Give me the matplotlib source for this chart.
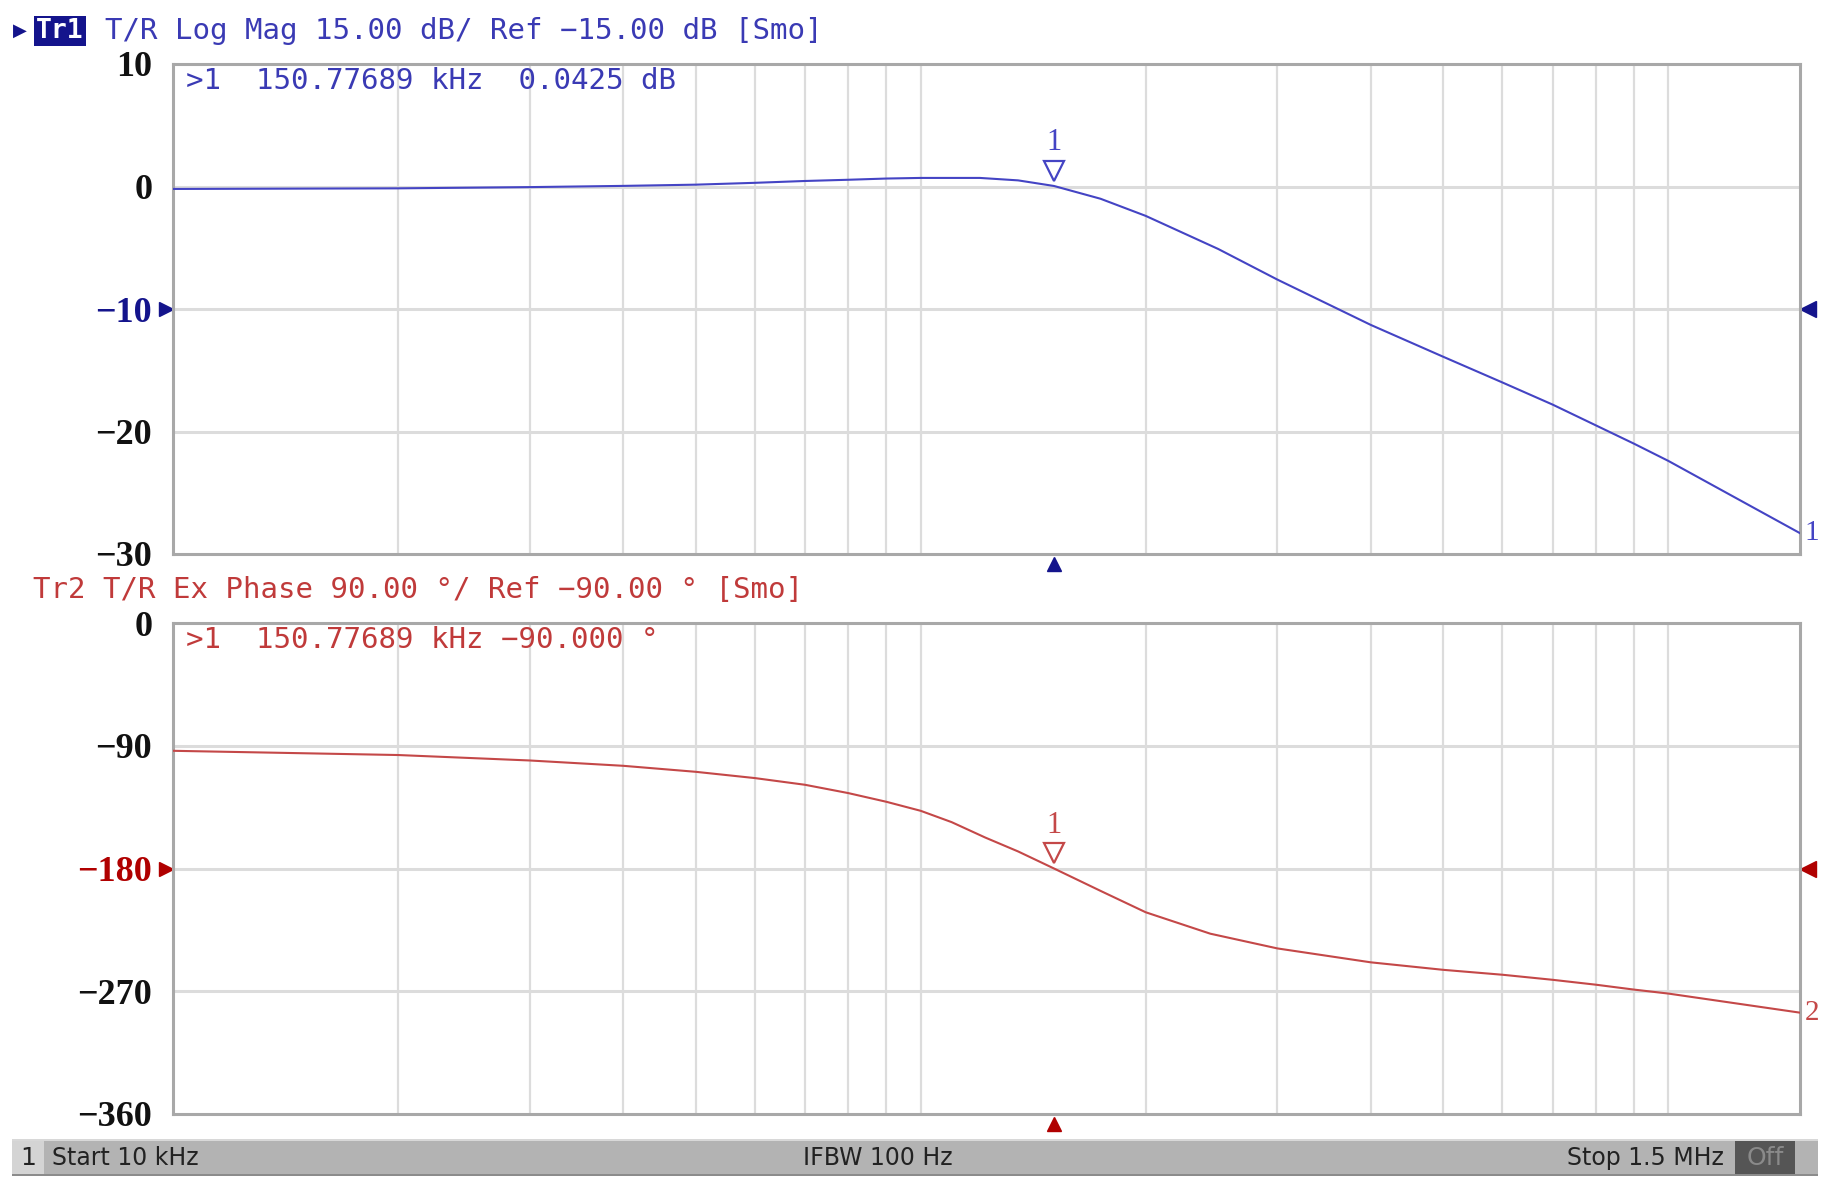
import matplotlib
matplotlib.use("Agg")
import matplotlib.pyplot as plt
from matplotlib.patches import Rectangle
from matplotlib.transforms import offset_copy, blended_transform_factory

# Tr1: magnitude (dB) vs frequency (kHz)
mag_freq_khz = [10, 20, 30, 40, 50, 60, 70, 80, 90, 100, 120, 135, 150.77689,
                174, 200, 250, 300, 400, 500, 600, 700, 800, 900, 1000, 1500]
mag_db = [-0.2, -0.15, -0.05, 0.05, 0.15, 0.3, 0.45, 0.55, 0.65, 0.7, 0.7, 0.5,
          0.0425, -1.0, -2.4, -5.1, -7.6, -11.3, -13.9, -16.0, -17.8, -19.5,
          -21.0, -22.4, -28.3]

# Tr2: phase (deg) vs frequency (kHz)
phase_freq_khz = [10, 20, 30, 40, 50, 60, 70, 80, 90, 100, 110, 122, 135,
                  150.77689, 174, 200, 244, 300, 400, 500, 600, 700, 800, 900,
                  1000, 1500]
phase_deg = [-93.7, -96.8, -100.8, -104.7, -109.1, -113.7, -118.6, -124.7,
             -131.1, -137.7, -146.0, -157.3, -167.5, -180.0, -196.4, -212.1,
             -227.8, -238.6, -248.8, -254.3, -257.9, -261.6, -265.2, -268.8,
             -271.7, -285.7]

marker_khz = 150.77689
marker_mag = 0.0425
marker_phase_y = -180.0

mag_ticks = [10, 0, -10, -20, -30]
phase_ticks = [0, -90, -180, -270, -360]
mag_ref = -10
phase_ref = -180

vlines_khz = [20, 30, 40, 50, 60, 70, 80, 90, 100,
              200, 300, 400, 500, 600, 700, 800, 900, 1000]

BLUE = "#4444c4"
BLUE_TXT = "#3a3ab4"
BLUE_DK = "#14148c"
RED = "#c44848"
RED_TXT = "#c03a3a"
RED_DK = "#b00000"
GRID = "#dcdcdc"
SPINE = "#a8a8a8"
MONO = "DejaVu Sans Mono"
SERIF = "Liberation Serif"

W, H = 1833, 1190
fig = plt.figure(figsize=(W / 100, H / 100), dpi=100)


def fx(px):
    return px / W


def fy(px):
    return 1 - px / H


def panel(top, bottom, freq, vals, ticks, ref, color, ref_color, mk_y,
          readout, end_label, readout_color):
    ax = fig.add_axes([fx(173), fy(bottom), fx(1800) - fx(173),
                       fy(top) - fy(bottom)])
    ax.set_xscale("log")
    ax.set_xlim(10, 1500)
    ax.set_ylim(ticks[-1], ticks[0])
    for v in vlines_khz:
        ax.axvline(v, color=GRID, lw=1.6, zorder=0)
    for t in ticks[1:-1]:
        ax.axhline(t, color=GRID, lw=2.2, zorder=0)
    ax.plot(freq, vals, color=color, lw=1.5, zorder=3)
    ax.set_xticks([])
    ax.minorticks_off()
    ax.set_yticks(ticks)
    ax.set_yticklabels([f"{t}".replace("-", "\u2212") for t in ticks])
    ax.tick_params(axis="y", length=0, pad=15)
    for lab, t in zip(ax.get_yticklabels(), ticks):
        lab.set_fontfamily(SERIF)
        lab.set_fontweight("bold")
        lab.set_fontsize(26)
        lab.set_color(ref_color if t == ref else "#111111")
    for s in ax.spines.values():
        s.set_color(SPINE)
        s.set_linewidth(2.2)

    bl = blended_transform_factory(ax.transAxes, ax.transData)
    ax.plot([-0.004], [ref], marker=">", ms=10, color=ref_color,
            transform=bl, clip_on=False)
    ax.plot([1.005], [ref], marker="<", ms=11, color=ref_color,
            transform=bl, clip_on=False)

    # marker 1 glyph above the trace
    tri = offset_copy(ax.transData, fig=fig, y=11, units="points")
    ax.plot([marker_khz], [mk_y], marker="v", ms=15, mfc="white",
            mec=color, mew=1.6, transform=tri, zorder=5)
    ax.annotate("1", (marker_khz, mk_y), xytext=(0, 31),
                textcoords="offset points", ha="center", va="center",
                color=color, fontsize=22, family=SERIF, zorder=5)

    # stimulus marker triangle under the axis
    bx = blended_transform_factory(ax.transData, ax.transAxes)
    under = offset_copy(bx, fig=fig, y=-7, units="points")
    ax.plot([marker_khz], [0], marker="^", ms=10, color=ref_color,
            transform=under, clip_on=False)

    ax.text(1.003, vals[-1], end_label, transform=bl, ha="left",
            va="center", color=color, fontsize=21, family=SERIF)
    ax.text(0.008, 0.965, readout, transform=ax.transAxes, ha="left",
            va="center", color=readout_color, fontsize=21, family=MONO)
    return ax


panel(64, 554, mag_freq_khz, mag_db, mag_ticks, mag_ref, BLUE, BLUE_DK,
      marker_mag, ">1  150.77689 kHz  0.0425 dB", "1", BLUE_TXT)
panel(623, 1114, phase_freq_khz, phase_deg, phase_ticks, phase_ref, RED,
      RED_DK, marker_phase_y, ">1  150.77689 kHz \u221290.000 \u00b0", "2",
      RED_TXT)

# trace headers
fig.text(fx(13), fy(31), "\u25b6", color=BLUE_DK, fontsize=13,
         va="center", ha="left", family="DejaVu Sans")
fig.text(fx(36), fy(31), "Tr1", color="white", fontsize=19, va="center",
         ha="left", family=MONO, fontweight="bold",
         bbox=dict(boxstyle="square,pad=0.08", fc=BLUE_DK, ec="none"))
fig.text(fx(105), fy(31), "T/R Log Mag 15.00 dB/ Ref \u221215.00 dB [Smo]",
         color=BLUE_TXT, fontsize=21, va="center", ha="left", family=MONO)
fig.text(fx(33), fy(590), "Tr2 T/R Ex Phase 90.00 \u00b0/ Ref \u221290.00 \u00b0 [Smo]",
         color=RED_TXT, fontsize=21, va="center", ha="left", family=MONO)

# status bar
bar = fig.add_axes([fx(12), fy(1176), fx(1818) - fx(12), fy(1139) - fy(1176)])
bar.set_xlim(0, 1806)
bar.set_ylim(0, 37)
bar.axis("off")
bar.add_patch(Rectangle((0, 0), 1806, 37, fc="#b3b3b3", ec="none"))
bar.add_patch(Rectangle((0, 35), 1806, 2, fc="#d8d8d8", ec="none"))
bar.add_patch(Rectangle((0, 0), 1806, 2, fc="#8c8c8c", ec="none"))
bar.add_patch(Rectangle((0, 2), 32, 33, fc="#d4d4d4", ec="none"))
bar.add_patch(Rectangle((1723, 2), 60, 33, fc="#555555", ec="none"))
NARROW = ["Liberation Sans Narrow", "DejaVu Sans"]
bar.text(16, 18, "1", ha="center", va="center", fontsize=18, family=NARROW,
         color="#222222")
bar.text(40, 18, "Start 10 kHz", ha="left", va="center", fontsize=17,
         family=NARROW, color="#222222")
bar.text(866, 18, "IFBW 100 Hz", ha="center", va="center", fontsize=17,
         family=NARROW, color="#222222")
bar.text(1712, 18, "Stop 1.5 MHz", ha="right", va="center", fontsize=17,
         family=NARROW, color="#222222")
bar.text(1753, 18, "Off", ha="center", va="center", fontsize=18,
         family=NARROW, color="#8a8a8a")

fig.savefig("out.png", dpi=100)
print("saved out.png")
